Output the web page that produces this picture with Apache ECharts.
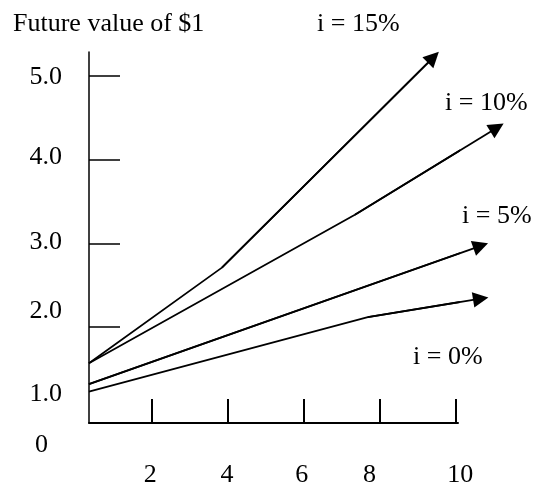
<!DOCTYPE html>
<html><head><meta charset="utf-8">
<script src="https://cdn.jsdelivr.net/npm/echarts@6.0.0/dist/echarts.min.js"></script>
<style>html,body{margin:0;padding:0;background:#fff}#c{width:535px;height:487px}</style>
</head><body><div id="c"></div>
<script>
// ---- data ----
const titleText = 'Future value of $1';
const seriesNames = ['i = 0%', 'i = 5%', 'i = 10%', 'i = 15%'];
const line0 = [[0.33, 1.23], [7.69, 2.12], [10.67, 2.34]];
const line5 = [[0.33, 1.32], [10.67, 2.97]];
const line10 = [[0.33, 1.57], [7.35, 3.34], [11.10, 4.38]];
const line15 = [[0.33, 1.57], [3.84, 2.71], [9.42, 5.22]];
const xTickValues = [2, 4, 6, 8, 10];
const xTickLabels = ['2', '4', '6', '8', '10'];
const yTickValues = [2, 3, 4, 5];
const yLabelValues = [1, 2, 3, 4, 5];
const yTickLabels = ['1.0', '2.0', '3.0', '4.0', '5.0'];
const originLabel = '0';

// ---- chart ----
const FONT = 'Liberation Serif, Times New Roman, serif';
const FS = 26;
const xMin = 0.332, xMax = 10.07;
const yMin = 0.856, yMax = 5.283;
const lines = [line0, line5, line10, line15];

const chart = echarts.init(document.getElementById('c'), null, {renderer: 'canvas'});

const yVals = [yMin].concat(yLabelValues);
const yTexts = [originLabel].concat(yTickLabels);
const yRich = {
  l0: {padding: [44, 14, 0, 0]},
  l1: {padding: [0, 0, 34, 0]},
  l2: {padding: [0, 0, 32, 0]},
  l3: {padding: [0, 0, 2, 0]},
  l4: {padding: [0, 0, 5, 0]},
  l5: {padding: [2, 0, 0, 0]}
};
const xRich = {
  l0: {padding: [0, 4, 0, 0]},
  l1: {padding: [0, 2, 0, 0]},
  l2: {padding: [0, 4, 0, 0]},
  l3: {padding: [0, 20, 0, 0]},
  l4: {padding: [0, 0, 0, 10]}
};
for (const k in yRich) Object.assign(yRich[k], {fontFamily: FONT, fontSize: FS, color: '#000'});
for (const k in xRich) Object.assign(xRich[k], {fontFamily: FONT, fontSize: FS, color: '#000'});

function findIdx(arr, v) {
  for (let i = 0; i < arr.length; i++) if (Math.abs(arr[i] - v) < 1e-6) return i;
  return -1;
}

const series = [];
lines.forEach((pts, i) => {
  series.push({
    name: seriesNames[i], type: 'line', data: pts, symbol: 'none', clip: false,
    lineStyle: {color: '#000', width: 1.8}, silent: true, animation: false
  });
  series.push({
    type: 'lines', coordinateSystem: 'cartesian2d', clip: false, silent: true, animation: false,
    symbol: ['none', 'triangle'], symbolSize: 15.5,
    lineStyle: {color: '#000', width: 1.8, opacity: 1},
    itemStyle: {color: '#000'},
    data: [{coords: [pts[pts.length - 2], pts[pts.length - 1]]}]
  });
});

const labelPos = [
  {text: seriesNames[0], x: 413, y: 357},
  {text: seriesNames[1], x: 462, y: 216},
  {text: seriesNames[2], x: 445, y: 103},
  {text: seriesNames[3], x: 317, y: 24}
];

chart.setOption({
  backgroundColor: '#fff',
  animation: false,
  grid: {left: 89, top: 52, width: 369, height: 371, containLabel: false, outerBoundsMode: 'none'},
  xAxis: {
    type: 'value', min: xMin, max: xMax,
    axisLine: {show: true, lineStyle: {color: '#000', width: 2}},
    axisTick: {show: true, inside: true, length: 24, customValues: xTickValues, lineStyle: {color: '#000', width: 2}},
    axisLabel: {
      show: true, customValues: xTickValues, margin: 39, hideOverlap: false,
      showMinLabel: true, showMaxLabel: true,
      formatter: (v) => { const i = findIdx(xTickValues, v); return i < 0 ? '' : '{l' + i + '|' + xTickLabels[i] + '}'; },
      rich: xRich, fontFamily: FONT, fontSize: FS, color: '#000'
    },
    splitLine: {show: false}
  },
  yAxis: {
    type: 'value', min: yMin, max: yMax,
    axisLine: {show: true, lineStyle: {color: '#000', width: 1.5}},
    axisTick: {show: true, inside: true, length: 31, customValues: yTickValues, lineStyle: {color: '#000', width: 1.5}},
    axisLabel: {
      show: true, customValues: yVals, margin: 27, hideOverlap: false,
      showMinLabel: true, showMaxLabel: true,
      formatter: (v) => { const i = findIdx(yVals, v); return i < 0 ? '' : '{l' + i + '|' + yTexts[i] + '}'; },
      rich: yRich, fontFamily: FONT, fontSize: FS, color: '#000'
    },
    splitLine: {show: false}
  },
  graphic: [
    {type: 'text', x: 13, y: 24, style: {text: titleText, font: FS + 'px ' + FONT, fill: '#000', verticalAlign: 'middle'}}
  ].concat(labelPos.map(p => ({
    type: 'text', x: p.x, y: p.y, style: {text: p.text, font: FS + 'px ' + FONT, fill: '#000', verticalAlign: 'middle', align: 'left'}
  }))),
  series: series
});
</script></body></html>
